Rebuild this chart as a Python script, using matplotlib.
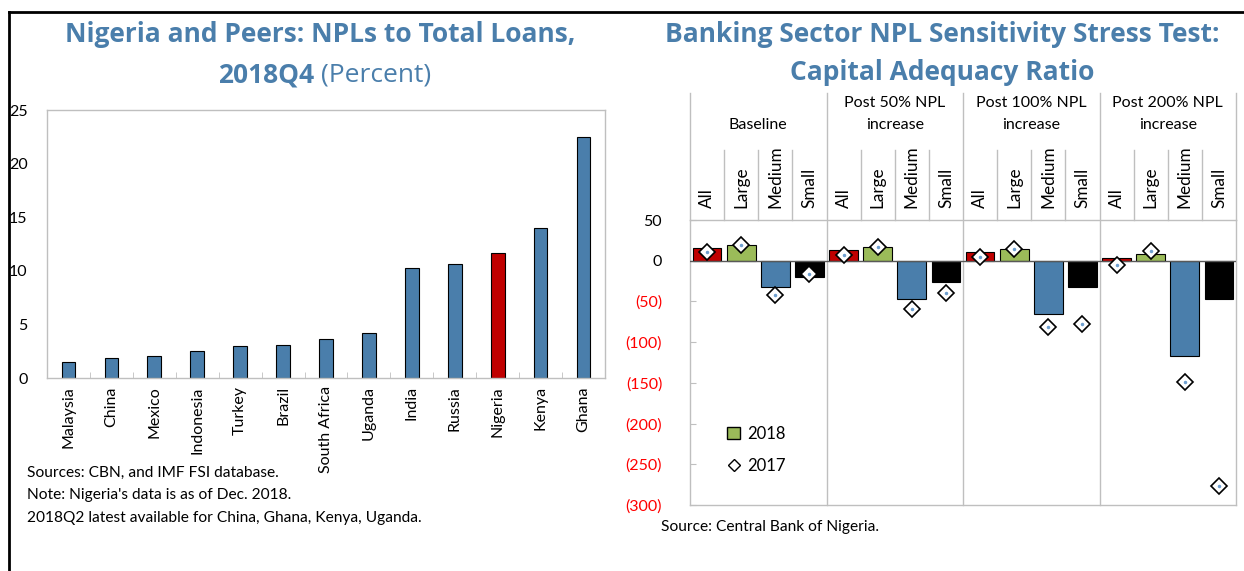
import numpy as np
import matplotlib.pyplot as plt
import matplotlib.transforms as mtransforms
from matplotlib.patches import Patch
from matplotlib.lines import Line2D

# ---- data: left panel ----
countries = ['Malaysia', 'China', 'Mexico', 'Indonesia', 'Turkey', 'Brazil',
             'South Africa', 'Uganda', 'India', 'Russia', 'Nigeria', 'Kenya', 'Ghana']
npl_ratio = [1.5, 1.9, 2.05, 2.5, 3.0, 3.1, 3.6, 4.2, 10.3, 10.65, 11.65, 14.0, 22.45]

# ---- data: right panel ----
scenarios = ['Baseline', 'Post 50% NPL\nincrease', 'Post 100% NPL\nincrease', 'Post 200% NPL\nincrease']
bank_groups = ['All', 'Large', 'Medium', 'Small']
car_2018 = [16.0, 19.2, -32.7, -20.4,
            12.7, 16.7, -46.5, -26.0,
            10.6, 14.3, -64.9, -32.2,
            3.3, 8.6, -117.0, -47.3]
car_2017 = [10.2, 19.2, -42.0, -16.3,
            6.5, 16.7, -59.2, -40.0,
            4.0, 14.7, -80.8, -77.6,
            -5.7, 11.8, -149.0, -277.0]

BLUE = '#4a7eab'
RED = '#c00000'
GREEN = '#9bbb59'
TITLE = '#4a7eab'
GRID = '#bfbfbf'
BODY = 'Lato'
TFONT = 'Open Sans'
TSIZE = 19

W, H = 1244, 571
fig = plt.figure(figsize=(W / 100, H / 100), dpi=100)


def box(l, t, r, b):
    # pixel box -> figure fraction rect
    return [l / W, 1 - b / H, (r - l) / W, (b - t) / H]


# outer frame (left and top only)
fig.add_artist(Line2D([9 / W, 9 / W], [0, 1 - 12 / H], color='black', lw=2, transform=fig.transFigure))
fig.add_artist(Line2D([9 / W, 1], [1 - 12 / H, 1 - 12 / H], color='black', lw=2, transform=fig.transFigure))

# ================= left panel =================
ax1 = fig.add_axes(box(47, 110, 605, 378))
x = np.arange(len(countries))
colors = [RED if c == 'Nigeria' else BLUE for c in countries]
ax1.bar(x, npl_ratio, width=0.32, color=colors, edgecolor='black', linewidth=0.8)
ax1.set_xlim(-0.5, len(countries) - 0.5)
ax1.set_ylim(0, 25)
ax1.set_yticks([0, 5, 10, 15, 20, 25])
ax1.set_xticks(x)
ax1.set_xticklabels(countries, rotation=90, fontsize=11.5, family=BODY)
ax1.set_xticks(np.arange(0.5, len(countries) - 1, 1), minor=True)
ax1.tick_params(axis='x', which='major', length=0, pad=6)
ax1.tick_params(axis='x', which='minor', direction='in', length=4, color=GRID)
ax1.tick_params(axis='y', length=0, pad=14, labelsize=11.5)
for lab in ax1.get_yticklabels():
    lab.set_family(BODY)
for s in ax1.spines.values():
    s.set_color(GRID)
    s.set_linewidth(1)

fig.text(320 / W, 1 - 35 / H, 'Nigeria and Peers: NPLs to Total Loans,', ha='center', va='center',
         fontsize=TSIZE, fontweight='bold', color=TITLE, family=TFONT)
fig.text(314 / W, 1 - 75 / H, '2018Q4', ha='right', va='center',
         fontsize=TSIZE, fontweight='bold', color=TITLE, family=TFONT)
fig.text(321 / W, 1 - 75 / H, '(Percent)', ha='left', va='center',
         fontsize=TSIZE, color=TITLE, family=TFONT)

notes = ['Sources: CBN, and IMF FSI database.',
         "Note: Nigeria's data is as of Dec. 2018.",
         '2018Q2 latest available for China, Ghana, Kenya, Uganda.']
for i, n in enumerate(notes):
    fig.text(27 / W, 1 - (473 + 22.5 * i) / H, n, ha='left', va='center', fontsize=11.2, family=BODY)

# ================= right panel =================
ax2 = fig.add_axes(box(690, 220, 1236, 505))
n = len(car_2018)
xr = np.arange(n)
bar_colors = [RED, GREEN, BLUE, 'black'] * len(scenarios)
ax2.bar(xr, car_2018, width=0.84, color=bar_colors, edgecolor='black', linewidth=0.8, zorder=2)
ax2.axhline(0, color='#595959', lw=1, zorder=3)
ax2.plot(xr, car_2017, linestyle='none', marker='D', markersize=8.5, markerfacecolor='white',
         markeredgecolor='black', markeredgewidth=1.2, zorder=4)
ax2.plot(xr, car_2017, linestyle='none', marker='.', markersize=3, color='#6fa0d0', zorder=5)
ax2.set_xlim(-0.5, n - 0.5)
ax2.set_ylim(-300, 50)
ax2.set_yticks(np.arange(-300, 51, 50))
ax2.set_yticklabels([f'({abs(v)})' if v < 0 else str(v) for v in range(-300, 51, 50)])
for lab, v in zip(ax2.get_yticklabels(), range(-300, 51, 50)):
    lab.set_color('red' if v < 0 else 'black')
    lab.set_family(BODY)
ax2.tick_params(axis='y', direction='in', length=4, color=GRID, pad=20, labelsize=11.5)
ax2.set_xticks([])
for s in ax2.spines.values():
    s.set_color(GRID)
    s.set_linewidth(1)

# multi-level category header
trans = mtransforms.blended_transform_factory(ax2.transData, ax2.transAxes)
ph = 505 - 220


def yf(py):
    return (505 - py) / ph


for g in range(len(scenarios) + 1):
    xb = 4 * g - 0.5
    ax2.plot([xb, xb], [0 if 0 < g < len(scenarios) else 1, yf(93)], transform=trans,
             color=GRID, lw=1, clip_on=False)
for k in range(n):
    if k % 4 != 0:
        xb = k - 0.5
        ax2.plot([xb, xb], [1, yf(150)], transform=trans, color=GRID, lw=1, clip_on=False)
    ax2.text(k, yf(208), bank_groups[k % 4], transform=trans, rotation=90, ha='center', va='bottom',
             fontsize=12.3, family=BODY)
for g, sc in enumerate(scenarios):
    lines = sc.split('\n')
    if len(lines) == 1:
        ax2.text(4 * g + 1.5, yf(125), lines[0], transform=trans, ha='center', va='center',
                 fontsize=11.5, family=BODY)
    else:
        ax2.text(4 * g + 1.5, yf(103), lines[0], transform=trans, ha='center', va='center',
                 fontsize=11.5, family=BODY)
        ax2.text(4 * g + 1.5, yf(125), lines[1], transform=trans, ha='center', va='center',
                 fontsize=11.5, family=BODY)

handles = [Patch(facecolor=GREEN, edgecolor='black', label='2018'),
           Line2D([], [], linestyle='none', marker='D', markersize=6, markerfacecolor='white',
                  markeredgecolor='black', label='2017')]
ax2.legend(handles=handles, loc='upper left', bbox_to_anchor=(0.04, 0.33), frameon=False,
           prop={'family': BODY, 'size': 12}, handlelength=0.8, handletextpad=0.4, labelspacing=0.95)

fig.text(942 / W, 1 - 35 / H, 'Banking Sector NPL Sensitivity Stress Test:', ha='center', va='center',
         fontsize=TSIZE, fontweight='bold', color=TITLE, family=TFONT)
fig.text(942 / W, 1 - 73 / H, 'Capital Adequacy Ratio', ha='center', va='center',
         fontsize=TSIZE, fontweight='bold', color=TITLE, family=TFONT)
fig.text(661 / W, 1 - 527 / H, 'Source: Central Bank of Nigeria.', ha='left', va='center',
         fontsize=11.2, family=BODY)

fig.savefig('out.png', dpi=100)
